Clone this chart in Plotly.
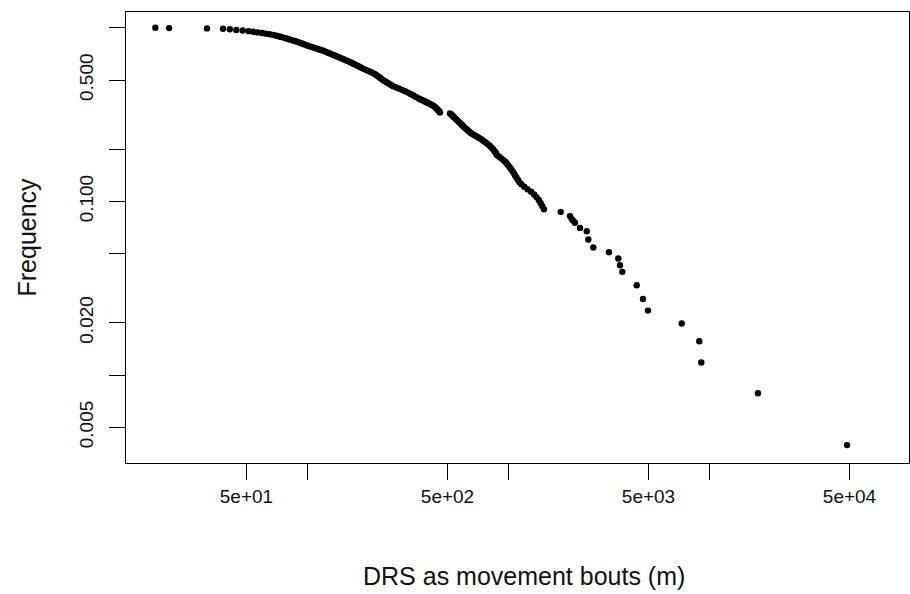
import plotly.graph_objects as go

# Movement-bout distances (m) and the share of bouts at least that long
bout_m = [
    17.6, 20.6, 31.8,
    38.2, 41.3, 44.5, 47.9, 51.3, 54.0, 56.8, 59.8, 62.4, 65.2, 68.1, 70.3,
    72.2, 74.2, 76.3, 78.4, 80.5, 82.6, 84.8, 87.0, 89.2, 91.4, 93.6, 95.8,
    98.0, 100.3, 102.6, 105.5, 108.4, 111.2, 114.2, 117.2, 120.5, 123.5, 126.3,
    129.3, 132.2, 135.3, 138.4, 141.8, 145.3, 148.6, 152.2, 155.9, 159.7, 163.6,
    167.2, 170.9, 174.9, 178.7, 182.7, 186.7, 191.4, 196.5, 201.8, 207.2, 212.5,
    218.2, 221.9, 225.8, 229.7, 233.6, 237.7, 242.9, 248.9, 254.7, 260.8, 266.8,
    275.9, 286.2, 296.6, 307.3, 317.7, 327.6, 338.3, 349.0, 359.9,
    365.7, 372.1, 379.0, 386.0, 393.1, 400.4, 407.8, 415.2, 422.9, 429.8, 433.8,
    438.3, 442.8, 446.9, 451.5, 456.2, 458.8,
    514.5, 520.4, 526.4, 532.5, 538.6, 544.8, 551.1, 557.4, 563.8, 570.4,
    578.3, 585.0, 592.5, 600.0, 606.9, 616.6, 626.6, 635.9, 645.6, 655.2,
    671.9, 688.4, 705.1, 721.4, 739.0, 753.5, 769.3, 785.3, 800.8,
    815.5, 828.6, 842.6, 853.1, 864.6, 873.7, 882.6, 908.1, 927.2, 950.6,
    972.9, 988.6, 1004.6, 1022, 1039.6, 1055.1, 1069.6, 1084.3, 1101.7, 1119.6,
    1137.7, 1165.6, 1204.9, 1250.4, 1303.7, 1348, 1385.6, 1422.6, 1452, 1480.6,
    1509.6,
    1829, 2035, 2075, 2113, 2154, 2281, 2464, 2509, 2657, 3180, 3538, 3607,
    3704, 4368, 4695, 4971, 7315, 8946, 9154, 17524, 48596,
]

frequency = [
    1.0, 0.9961, 0.9922,
    0.9882, 0.9804, 0.9725, 0.9647, 0.9569, 0.9490, 0.9412, 0.9333, 0.9255,
    0.9176, 0.9098, 0.9020, 0.8941, 0.8863, 0.8784, 0.8706, 0.8627, 0.8549,
    0.8471, 0.8392, 0.8314, 0.8235, 0.8157, 0.8078, 0.8000, 0.7922, 0.7843,
    0.7765, 0.7686, 0.7608, 0.7529, 0.7451, 0.7373, 0.7294, 0.7216, 0.7137,
    0.7059, 0.6980, 0.6902, 0.6824, 0.6745, 0.6667, 0.6588, 0.6510, 0.6431,
    0.6353, 0.6275, 0.6196, 0.6118, 0.6039, 0.5961, 0.5882, 0.5804, 0.5725,
    0.5647, 0.5569, 0.5490, 0.5412, 0.5333, 0.5255, 0.5176, 0.5098, 0.5020,
    0.4941, 0.4863, 0.4784, 0.4706, 0.4627, 0.4549, 0.4471, 0.4392, 0.4314,
    0.4235, 0.4157, 0.4078, 0.4000, 0.3922,
    0.3882, 0.3843, 0.3804, 0.3765, 0.3725, 0.3686, 0.3647, 0.3608, 0.3569,
    0.3529, 0.3490, 0.3451, 0.3412, 0.3373, 0.3333, 0.3294, 0.3255,
    0.3216, 0.3176, 0.3137, 0.3098, 0.3059, 0.3020, 0.2980, 0.2941, 0.2902,
    0.2863, 0.2824, 0.2784, 0.2745, 0.2706, 0.2667, 0.2627, 0.2588, 0.2549,
    0.2510, 0.2471, 0.2431, 0.2392, 0.2353, 0.2314, 0.2275, 0.2235, 0.2196,
    0.2157, 0.2118, 0.2078, 0.2039, 0.2000, 0.1961, 0.1922, 0.1882, 0.1843,
    0.1804, 0.1765, 0.1725, 0.1686, 0.1647, 0.1608, 0.1569, 0.1529, 0.1490,
    0.1451, 0.1412, 0.1373, 0.1333, 0.1294, 0.1255, 0.1216, 0.1176, 0.1137,
    0.1098, 0.1059, 0.1020, 0.0980, 0.0941, 0.0902,
    0.0871, 0.0823, 0.0791, 0.0773, 0.0753, 0.0704, 0.0674, 0.0604, 0.0543,
    0.0510, 0.0469, 0.0429, 0.0393, 0.0329, 0.0274, 0.0235, 0.0198, 0.01566,
    0.0118, 0.00786, 0.00395,
]

x_tick_vals = [50, 100, 500, 1000, 5000, 10000, 50000, 100000]
x_tick_text = ["5e+01", "", "5e+02", "", "5e+03", "", "5e+04", ""]
y_tick_vals = [0.005, 0.01, 0.02, 0.05, 0.1, 0.2, 0.5, 1.0]
y_tick_text = ["0.005", "", "0.020", "", "0.100", "", "0.500", ""]

x_label = "DRS as movement bouts (m)"
y_label = "Frequency"

FONT = "Liberation Sans, Arial, sans-serif"
INK = "#111111"

fig = go.Figure(
    go.Scatter(
        x=bout_m,
        y=frequency,
        mode="markers",
        marker=dict(color="black", size=6.4, line=dict(width=0)),
        hoverinfo="x+y",
    )
)

fig.update_layout(
    width=910,
    height=594,
    margin=dict(l=126, r=1, t=12, b=131),
    paper_bgcolor="white",
    plot_bgcolor="white",
    showlegend=False,
    font=dict(family=FONT, size=19, color=INK),
    annotations=[
        # axis labels placed in pixels relative to the plot box
        dict(
            text=x_label,
            xref="paper", yref="paper",
            x=0.5, y=0,
            xanchor="center", yanchor="middle",
            xshift=6, yshift=-113,
            showarrow=False,
            font=dict(family=FONT, size=25, color=INK),
        ),
        dict(
            text=y_label,
            xref="paper", yref="paper",
            x=0, y=0.5,
            xanchor="center", yanchor="middle",
            xshift=-100,
            textangle=-90,
            showarrow=False,
            font=dict(family=FONT, size=25, color=INK),
        ),
    ],
)

fig.update_xaxes(
    type="log",
    range=[1.0995, 4.9950],
    tickmode="array",
    tickvals=x_tick_vals,
    ticktext=x_tick_text,
    ticks="outside",
    ticklen=16,
    tickwidth=1,
    tickcolor="black",
    ticklabelstandoff=0,
    showline=True,
    linecolor="black",
    linewidth=1,
    mirror=True,
    showgrid=False,
    zeroline=False,
)

fig.update_yaxes(
    type="log",
    range=[-2.5066, 0.0911],
    tickmode="array",
    tickvals=y_tick_vals,
    ticktext=y_tick_text,
    tickangle=-90,
    ticks="outside",
    ticklen=16,
    tickwidth=1,
    tickcolor="black",
    ticklabelstandoff=8,
    showline=True,
    linecolor="black",
    linewidth=1,
    mirror=True,
    showgrid=False,
    zeroline=False,
)

fig.write_html("out.html")
